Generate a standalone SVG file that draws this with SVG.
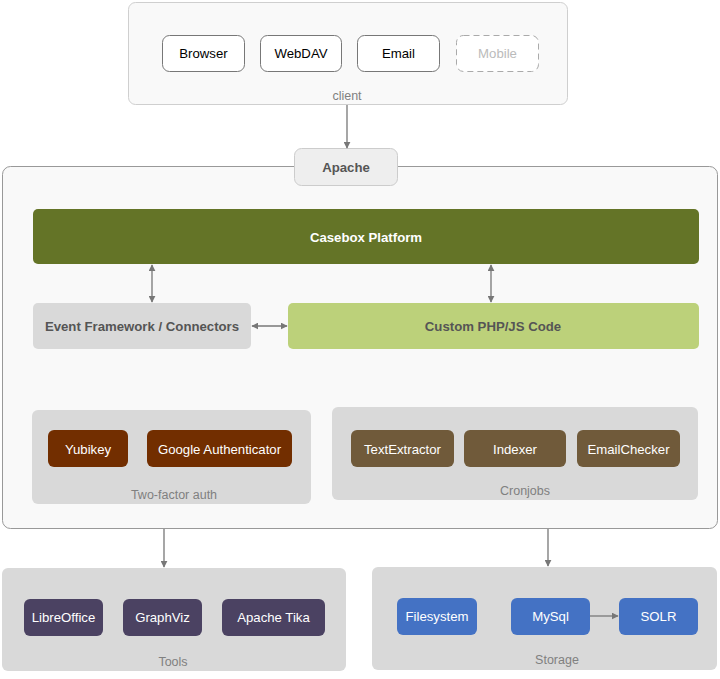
<svg xmlns="http://www.w3.org/2000/svg" width="720" height="679" viewBox="0 0 720 679">
<defs>
<marker id="ah" viewBox="0 0 10 10" refX="9" refY="5" markerWidth="7" markerHeight="7" orient="auto-start-reverse" markerUnits="userSpaceOnUse">
<path d="M0,0 L10,5 L0,10 z" fill="#777"/>
</marker>
<style>
text{font-family:"Liberation Sans",Arial,sans-serif;font-size:13.2px;text-anchor:middle;dominant-baseline:central}
.grp{fill:#d9d9d9;stroke:none}
.lbl{fill:#808080;font-size:12.5px}
.white{fill:#fff}
.bold{font-weight:bold;fill:#555}
.conn{stroke:#777;stroke-width:1.3;fill:none}
</style>
</defs>
<rect x="0" y="0" width="720" height="679" fill="#fff"/>
<g id="client">
<rect x="128.5" y="2.5" width="439" height="102" rx="7" fill="#f9f9f9" stroke="#cfcfcf"/>
<text x="347" y="96" class="lbl">client</text>
</g>
<g id="browser"><rect x="162.5" y="35.5" width="82" height="36" rx="7" fill="#fff" stroke="#777"/><text x="203.5" y="53.5">Browser</text></g>
<g id="webdav"><rect x="260.5" y="35.5" width="81" height="36" rx="7" fill="#fff" stroke="#777"/><text x="301" y="53.5">WebDAV</text></g>
<g id="email"><rect x="357.5" y="35.5" width="82" height="36" rx="7" fill="#fff" stroke="#777"/><text x="398.5" y="53.5">Email</text></g>
<g id="mobile"><rect x="456.5" y="35.5" width="82" height="36" rx="7" fill="#fff" stroke="#aaa" stroke-dasharray="6,4"/><text x="497.5" y="53.5" fill="#bbb">Mobile</text></g>
<g id="main">
<rect x="2.5" y="166.5" width="715" height="362" rx="8" fill="#f9f9f9" stroke="#999"/>
</g>
<g id="apache"><rect x="294.5" y="148.5" width="103" height="37" rx="7" fill="#eee" stroke="#ccc"/><text x="346" y="167" class="bold">Apache</text></g>
<g id="casebox"><rect x="33" y="209" width="666" height="55" rx="5" fill="#647427"/><text x="366" y="237" class="white" font-weight="bold">Casebox Platform</text></g>
<g id="event"><rect x="33" y="303" width="218" height="46" rx="5" fill="#d9d9d9"/><text x="142" y="326" class="bold">Event Framework / Connectors</text></g>
<g id="custom"><rect x="288" y="303" width="411" height="46" rx="5" fill="#bcd17a"/><text x="493" y="326" class="bold">Custom PHP/JS Code</text></g>
<g id="twofactor">
<rect x="32" y="410" width="279" height="94" rx="6" class="grp"/>
<text x="174" y="495" class="lbl">Two-factor auth</text>
</g>
<g id="yubikey"><rect x="48" y="430" width="80" height="37" rx="6" fill="#722e00"/><text x="88" y="449" class="white">Yubikey</text></g>
<g id="google"><rect x="147" y="430" width="145" height="37" rx="6" fill="#722e00"/><text x="219.5" y="449" class="white">Google Authenticator</text></g>
<g id="cronjobs">
<rect x="332" y="407" width="366" height="93" rx="6" class="grp"/>
<text x="525" y="491" class="lbl">Cronjobs</text>
</g>
<g id="textextractor"><rect x="351" y="430" width="103" height="37" rx="6" fill="#705a3a"/><text x="402.5" y="449" class="white">TextExtractor</text></g>
<g id="indexer"><rect x="464" y="430" width="102" height="37" rx="6" fill="#705a3a"/><text x="515" y="449" class="white">Indexer</text></g>
<g id="emailchecker"><rect x="577" y="430" width="103" height="37" rx="6" fill="#705a3a"/><text x="628.5" y="449" class="white">EmailChecker</text></g>
<g id="tools">
<rect x="2" y="568" width="344" height="103" rx="6" class="grp"/>
<text x="173" y="662" class="lbl">Tools</text>
</g>
<g id="libreoffice"><rect x="24" y="599" width="79" height="37" rx="6" fill="#4b4262"/><text x="63.5" y="617.5" class="white">LibreOffice</text></g>
<g id="graphviz"><rect x="123" y="599" width="79" height="37" rx="6" fill="#4b4262"/><text x="162.5" y="617.5" class="white">GraphViz</text></g>
<g id="tika"><rect x="222" y="599" width="103" height="37" rx="6" fill="#4b4262"/><text x="273.5" y="617.5" class="white">Apache Tika</text></g>
<g id="storage">
<rect x="372" y="567" width="345" height="103" rx="6" class="grp"/>
<text x="557" y="660" class="lbl">Storage</text>
</g>
<g id="filesystem"><rect x="397" y="598" width="80" height="37" rx="6" fill="#4472c4"/><text x="437" y="616.5" class="white">Filesystem</text></g>
<g id="mysql"><rect x="511" y="598" width="79" height="37" rx="6" fill="#4472c4"/><text x="550.5" y="616.5" class="white">MySql</text></g>
<g id="solr"><rect x="619" y="598" width="79" height="37" rx="6" fill="#4472c4"/><text x="658.5" y="616.5" class="white">SOLR</text></g>
<g id="connectors">
<line x1="347" y1="105" x2="347" y2="148" class="conn" marker-end="url(#ah)"/>
<line x1="152" y1="265" x2="152" y2="302" class="conn" marker-start="url(#ah)" marker-end="url(#ah)"/>
<line x1="491" y1="265" x2="491" y2="302" class="conn" marker-start="url(#ah)" marker-end="url(#ah)"/>
<line x1="252" y1="326" x2="287" y2="326" class="conn" marker-start="url(#ah)" marker-end="url(#ah)"/>
<line x1="164" y1="529" x2="164" y2="567" class="conn" marker-end="url(#ah)"/>
<line x1="548" y1="529" x2="548" y2="566" class="conn" marker-end="url(#ah)"/>
<line x1="590" y1="616" x2="618" y2="616" class="conn" marker-end="url(#ah)"/>
</g>
</svg>
